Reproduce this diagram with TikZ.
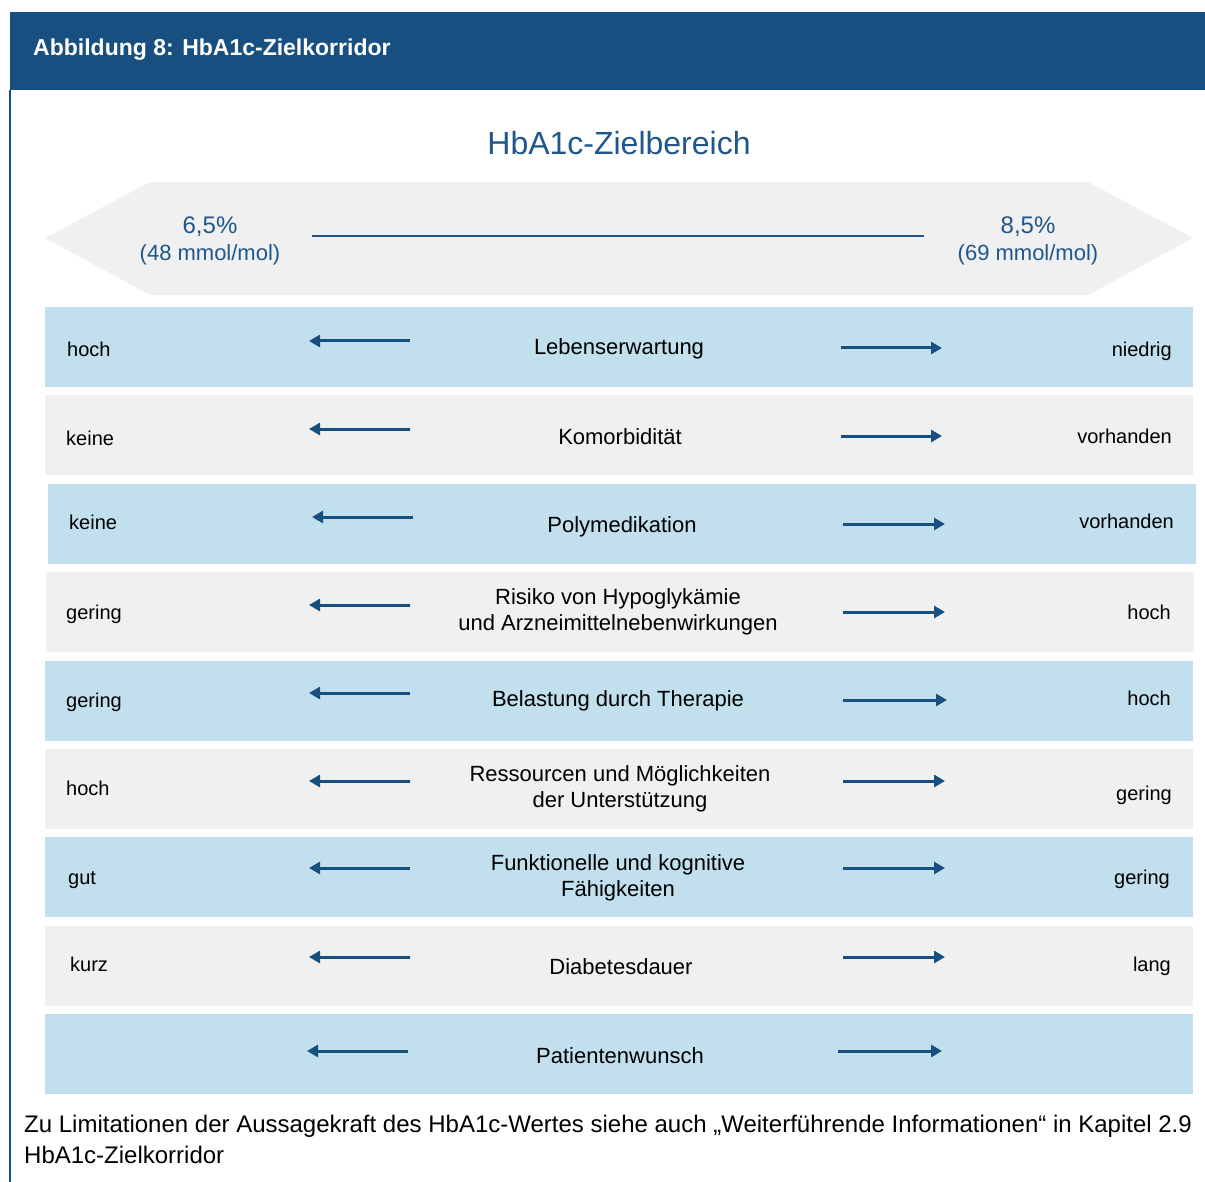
\documentclass[tikz,border=0pt]{standalone}
\usepackage{fontspec}
\setmainfont{Liberation Sans}
\usetikzlibrary{arrows.meta}

\definecolor{kopfblau}{RGB}{23,80,128}
\definecolor{textblau}{RGB}{31,86,140}
\definecolor{zeileblau}{RGB}{193,223,236}
\definecolor{zeilegrau}{RGB}{240,240,240}

\begin{document}
\begin{tikzpicture}[x=1pt,y=-1pt]
            \tikzset{every node/.style={inner sep=0pt},
                     zeile/.style={minimum width=1148pt, minimum height=80pt},
                     seite/.style={font=\fontsize{20}{24}\selectfont, text height=14pt, text depth=4pt},
                     mitte/.style={font=\fontsize{22}{26}\selectfont, align=center},
                     pfeil/.style={draw=kopfblau, line width=3pt, -{Triangle[length=11pt,width=12pt]}}}
            \useasboundingbox (0,0) rectangle (1205,1182);
            % Kopfzeile und Rahmen
            \fill [kopfblau] (10,12) rectangle (1205,90);
            \node [anchor=west, text=white, font=\fontsize{23}{27}\selectfont\bfseries] (kopf) at (33,50) {Abbildung 8: HbA1c-Zielkorridor};
            \draw [kopfblau, line width=2pt] (10,90) -- (10,1182);
            % Zielbereich
            \node [text=textblau, font=\fontsize{32}{36}\selectfont] (titel) at (619,143) {HbA1c-Zielbereich};
            \fill [zeilegrau] (45,238) -- (150,182) -- (1088,182) -- (1193,238) -- (1088,295) -- (150,295) -- cycle;
            \node [mitte, text=textblau, font=\fontsize{22}{27}\selectfont] (unten) at (210,241) {{\fontsize{24}{27}\selectfont 6,5\%}\\(48 mmol/mol)};
            \node [mitte, text=textblau, font=\fontsize{22}{27}\selectfont] (oben) at (1028,241) {{\fontsize{24}{27}\selectfont 8,5\%}\\(69 mmol/mol)};
            \coordinate (sa) at (312,236);
            \coordinate (sb) at (924,236);
            \draw [textblau, line width=1.2pt] (sa) -- (sb);
            % Zeilen
            \node [zeile, fill=zeileblau] (z1) at (619,347) {};
            \node [zeile, fill=zeilegrau] (z2) at (619,435) {};
            \node [zeile, fill=zeileblau] (z3) at (622,524) {};
            \node [zeile, fill=zeilegrau] (z4) at (620,612) {};
            \node [zeile, fill=zeileblau] (z5) at (619,701) {};
            \node [zeile, fill=zeilegrau] (z6) at (619,789) {};
            \node [zeile, fill=zeileblau] (z7) at (619,877) {};
            \node [zeile, fill=zeilegrau] (z8) at (619,966) {};
            \node [zeile, fill=zeileblau] (z9) at (619,1054) {};
            % linke Seite
            \node [seite, anchor=west] (l1) at (67,351) {hoch};
            \node [seite, anchor=west] (l2) at (66,440) {keine};
            \node [seite, anchor=west] (l3) at (69,524) {keine};
            \node [seite, anchor=west] (l4) at (66,614) {gering};
            \node [seite, anchor=west] (l5) at (66,702) {gering};
            \node [seite, anchor=west] (l6) at (66,790) {hoch};
            \node [seite, anchor=west] (l7) at (68,879) {gut};
            \node [seite, anchor=west] (l8) at (70,966) {kurz};
            % Mitte
            \node [mitte] (m1) at (619,349) {Lebenserwartung};
            \node [mitte] (m2) at (620,437) {Komorbidität};
            \node [mitte] (m3) at (622,527) {Polymedikation};
            \node [mitte] (m4) at (618,612) {Risiko von Hypoglykämie\\und Arzneimittelnebenwirkungen};
            \node [mitte] (m5) at (618,701) {Belastung durch Therapie};
            \node [mitte] (m6) at (620,789) {Ressourcen und Möglichkeiten\\der Unterstützung};
            \node [mitte] (m7) at (618,878) {Funktionelle und kognitive\\Fähigkeiten};
            \node [mitte] (m8) at (621,967) {Diabetesdauer};
            \node [mitte] (m9) at (620,1056) {Patientenwunsch};
            % rechte Seite
            \node [seite, anchor=east] (r1) at (1172,351) {niedrig};
            \node [seite, anchor=east] (r2) at (1172,438) {vorhanden};
            \node [seite, anchor=east] (r3) at (1174,523) {vorhanden};
            \node [seite, anchor=east] (r4) at (1171,614) {hoch};
            \node [seite, anchor=east] (r5) at (1171,700) {hoch};
            \node [seite, anchor=east] (r6) at (1172,795) {gering};
            \node [seite, anchor=east] (r7) at (1170,879) {gering};
            \node [seite, anchor=east] (r8) at (1171,966) {lang};
            % Pfeile
            \coordinate (la1) at (410,341);  \coordinate (lb1) at (309,341);
            \coordinate (la2) at (410,429);  \coordinate (lb2) at (309,429);
            \coordinate (la3) at (413,517);  \coordinate (lb3) at (312,517);
            \coordinate (la4) at (410,605);  \coordinate (lb4) at (309,605);
            \coordinate (la5) at (410,693);  \coordinate (lb5) at (309,693);
            \coordinate (la6) at (410,781);  \coordinate (lb6) at (309,781);
            \coordinate (la7) at (410,868);  \coordinate (lb7) at (309,868);
            \coordinate (la8) at (410,957);  \coordinate (lb8) at (309,957);
            \coordinate (la9) at (408,1051); \coordinate (lb9) at (307,1051);
            \coordinate (ra1) at (841,348);  \coordinate (rb1) at (942,348);
            \coordinate (ra2) at (841,436);  \coordinate (rb2) at (942,436);
            \coordinate (ra3) at (843,524);  \coordinate (rb3) at (945,524);
            \coordinate (ra4) at (843,612);  \coordinate (rb4) at (945,612);
            \coordinate (ra5) at (843,700);  \coordinate (rb5) at (947,700);
            \coordinate (ra6) at (843,781);  \coordinate (rb6) at (945,781);
            \coordinate (ra7) at (843,868);  \coordinate (rb7) at (945,868);
            \coordinate (ra8) at (843,957);  \coordinate (rb8) at (945,957);
            \coordinate (ra9) at (838,1051); \coordinate (rb9) at (942,1051);
            \foreach \i in {1,...,9} {
              \draw [pfeil] (la\i) -- (lb\i);
              \draw [pfeil] (ra\i) -- (rb\i);
            }
            % Hinweis
            \node [anchor=west, align=left, font=\fontsize{24}{31}\selectfont] (hinweis) at (24,1139) {Zu Limitationen der Aussagekraft des HbA1c-Wertes siehe auch „Weiterführende Informationen“ in Kapitel 2.9\\HbA1c-Zielkorridor};
\end{tikzpicture}
\end{document}
